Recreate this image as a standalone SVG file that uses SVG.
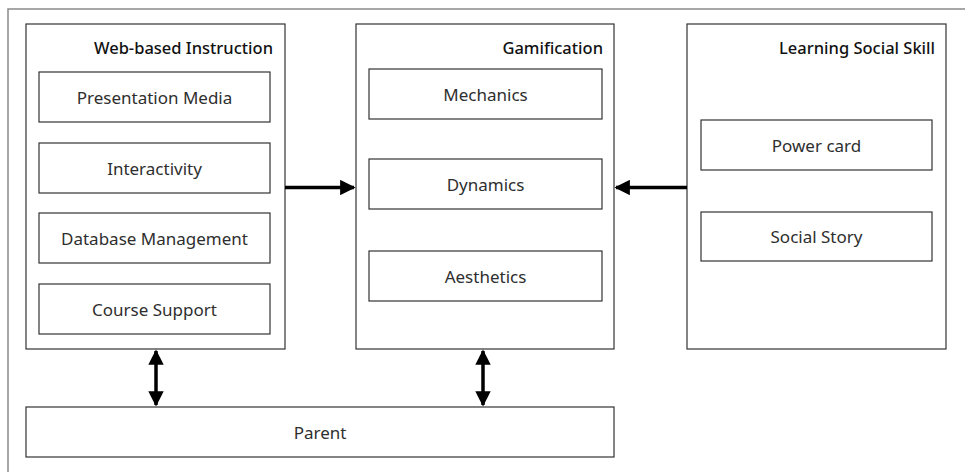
<svg xmlns="http://www.w3.org/2000/svg" width="965" height="472" viewBox="0 0 965 472">
  <style>
    .frame { fill: none; stroke: #8a8a8a; stroke-width: 1.5; }
    .box { fill: #ffffff; stroke: #333333; stroke-width: 1.2; }
    .item { font-family: "Noto Sans", "Open Sans", sans-serif; font-size: 17px; fill: #2e2e2e; text-anchor: middle; dominant-baseline: central; }
    .title { font-family: "Noto Sans", "Open Sans", sans-serif; font-size: 16.5px; font-weight: 500; fill: #111111; text-anchor: end; }
    .conn { stroke: #000000; stroke-width: 3.5; fill: none; }
    .head { fill: #000000; }
  </style>
  <defs>
    <marker id="arrow" viewBox="0 0 10 10" refX="9" refY="5" markerWidth="4.4" markerHeight="4.4" orient="auto-start-reverse" markerUnits="strokeWidth">
      <path d="M0,0 L10,5 L0,10 Z" class="head"/>
    </marker>
  </defs>

  <rect width="965" height="472" fill="#ffffff"/>
  <!-- outer frame -->
  <rect class="frame" x="8" y="9" width="970" height="480"/>

  <g id="web-based-instruction">
    <rect class="box" x="26" y="24" width="259" height="325"/>
    <text class="title" x="273" y="54">Web-based Instruction</text>
    <g id="presentation-media">
      <rect class="box" x="39" y="72" width="231" height="50"/>
      <text class="item" x="154.5" y="97">Presentation Media</text>
    </g>
    <g id="interactivity">
      <rect class="box" x="39" y="143" width="231" height="50"/>
      <text class="item" x="154.5" y="168">Interactivity</text>
    </g>
    <g id="database-management">
      <rect class="box" x="39" y="213" width="231" height="50"/>
      <text class="item" x="154.5" y="238">Database Management</text>
    </g>
    <g id="course-support">
      <rect class="box" x="39" y="284" width="231" height="50"/>
      <text class="item" x="154.5" y="309">Course Support</text>
    </g>
  </g>

  <g id="gamification">
    <rect class="box" x="356" y="24" width="258" height="325"/>
    <text class="title" x="603" y="54">Gamification</text>
    <g id="mechanics">
      <rect class="box" x="369" y="69" width="233" height="50"/>
      <text class="item" x="485.5" y="94">Mechanics</text>
    </g>
    <g id="dynamics">
      <rect class="box" x="369" y="159" width="233" height="50"/>
      <text class="item" x="485.5" y="184">Dynamics</text>
    </g>
    <g id="aesthetics">
      <rect class="box" x="369" y="251" width="233" height="50"/>
      <text class="item" x="485.5" y="276">Aesthetics</text>
    </g>
  </g>

  <g id="learning-social-skill">
    <rect class="box" x="687" y="24" width="259" height="325"/>
    <text class="title" x="935" y="54">Learning Social Skill</text>
    <g id="power-card">
      <rect class="box" x="701" y="120" width="231" height="50"/>
      <text class="item" x="816.5" y="145">Power card</text>
    </g>
    <g id="social-story">
      <rect class="box" x="701" y="212" width="231" height="49"/>
      <text class="item" x="816.5" y="236.5">Social Story</text>
    </g>
  </g>

  <g id="parent">
    <rect class="box" x="26" y="407" width="588" height="50"/>
    <text class="item" x="320" y="432">Parent</text>
  </g>

  <g id="connectors">
    <line class="conn" x1="285" y1="187.5" x2="354" y2="187.5" marker-end="url(#arrow)"/>
    <line class="conn" x1="687" y1="187.5" x2="616" y2="187.5" marker-end="url(#arrow)"/>
    <line class="conn" x1="156" y1="351" x2="156" y2="405" marker-start="url(#arrow)" marker-end="url(#arrow)"/>
    <line class="conn" x1="483" y1="351" x2="483" y2="405" marker-start="url(#arrow)" marker-end="url(#arrow)"/>
  </g>
</svg>
